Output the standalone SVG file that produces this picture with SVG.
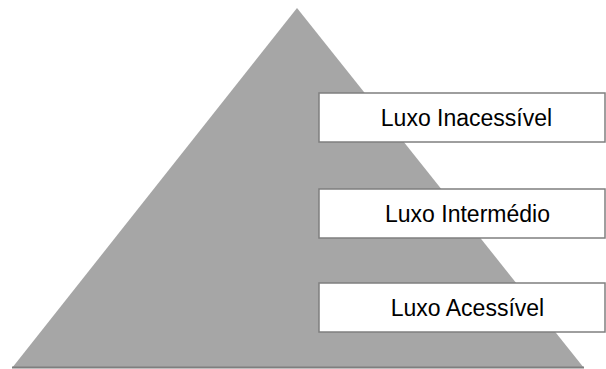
<svg xmlns="http://www.w3.org/2000/svg" width="606" height="369" viewBox="0 0 606 369">
<style>
.box{fill:#ffffff;stroke:#7f7f7f;stroke-width:1.5}
.lbl{font-family:"Liberation Sans",Arial,sans-serif;font-size:23px;fill:#000000;text-anchor:middle}
</style>
<rect width="606" height="369" fill="#ffffff"/>
<g id="pyramid">
<polygon points="297,8 584,368 12,368" fill="#a6a6a6"/>
<line x1="12" y1="367.5" x2="584" y2="367.5" stroke="#7f7f7f" stroke-width="2"/>
</g>
<g id="connectors"></g>
<g id="node-inacessivel">
<rect class="box" x="319" y="93" width="286" height="49"/>
<text class="lbl" x="466.5" y="126">Luxo Inacessível</text>
</g>
<g id="node-intermedio">
<rect class="box" x="319" y="189" width="286" height="49"/>
<text class="lbl" x="467.5" y="222">Luxo Intermédio</text>
</g>
<g id="node-acessivel">
<rect class="box" x="319" y="283" width="286" height="49"/>
<text class="lbl" x="467.5" y="316">Luxo Acessível</text>
</g>
</svg>
